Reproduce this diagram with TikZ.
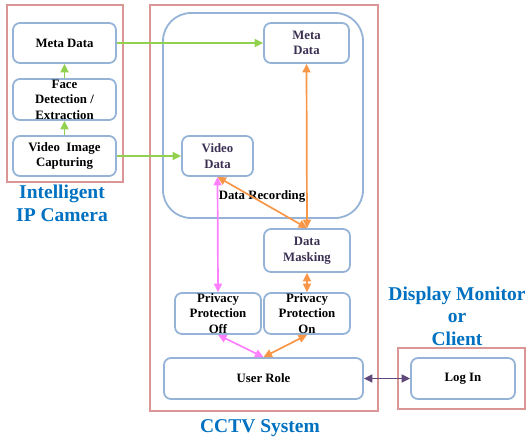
\documentclass[tikz,border=0pt]{standalone}
\usepackage{fontspec}
\setmainfont{Liberation Serif}
\usetikzlibrary{arrows.meta}
\definecolor{boxblue}{RGB}{149,179,215}
\definecolor{redbox}{RGB}{217,150,148}
\definecolor{greenarr}{RGB}{146,208,80}
\definecolor{orangearr}{RGB}{247,150,70}
\definecolor{pinkarr}{RGB}{255,128,255}
\definecolor{purplearr}{RGB}{96,73,122}
\definecolor{slatetext}{RGB}{60,48,82}
\definecolor{labelblue}{RGB}{0,112,192}
\begin{document}
\begin{tikzpicture}[x=1pt,y=-1pt,
  box/.style={draw=boxblue, line width=1.8pt, rounded corners=7pt, align=center,
    font=\fontsize{12.8}{15.5}\selectfont\bfseries, inner sep=0pt},
  container/.style={draw=redbox, line width=1.6pt},
  arr/.style={line width=1.7pt, -{Triangle[length=8.5pt,width=8pt]}},
  darr/.style={line width=1.7pt, {Triangle[length=8.5pt,width=8pt]}-{Triangle[length=8.5pt,width=8pt]}},
  biglabel/.style={text=labelblue, align=center, font=\fontsize{19.5}{22.5}\selectfont\bfseries, inner sep=0pt}
]
\useasboundingbox (0,0) rectangle (526,440);

% containers
\draw[container] (7,5) rectangle (123,182);
\draw[container] (150,5) rectangle (378,411);
\draw[container] (398,348) rectangle (525,409);
\draw[draw=boxblue, line width=1.8pt, rounded corners=28pt] (163,13) rectangle (363,218);

% camera boxes
\node[box, minimum width=103pt, minimum height=40pt] (lmeta) at (64.5,43) {Meta Data};
\node[box, minimum width=103pt, minimum height=41pt] (face) at (64.5,99.5) {Face\\Detection /\\Extraction};
\node[box, minimum width=103pt, minimum height=40pt] (vic) at (64.5,156) {Video\ \ Image\\Capturing};

% CCTV boxes
\node[box, text=slatetext, minimum width=85pt, minimum height=40pt] (imeta) at (306.5,43) {Meta\\Data};
\node[box, text=slatetext, minimum width=71pt, minimum height=40pt] (vdata) at (217.5,156) {Video\\Data};
\node[box, text=slatetext, minimum width=86pt, minimum height=43pt] (mask) at (307,250.5) {Data\\Masking};
\node[box, minimum width=86pt, minimum height=41pt] (ppoff) at (218,313.5) {Privacy\\Protection\\Off};
\node[box, minimum width=86pt, minimum height=41pt] (ppon) at (307,313.5) {Privacy\\Protection\\On};
\node[box, minimum width=199pt, minimum height=41pt] (role) at (263.5,378.5) {User Role};
\node[box, minimum width=104pt, minimum height=41pt] (login) at (463,378.5) {Log In};

% labels
\node[font=\fontsize{12.8}{15.5}\selectfont\bfseries, inner sep=0pt] (rec) at (262,196.5) {Data Recording};
\node[biglabel] (camlbl) at (62,203.5) {Intelligent\\IP Camera};
\node[biglabel] (cctvlbl) at (260,428) {CCTV System};
\node[biglabel] (displbl) at (457,316) {Display Monitor\\or\\Client};

% arrows
\draw[arr, greenarr] (lmeta.east) -- (imeta.west);
\draw[arr, greenarr] (vic.east) -- (vdata.west);
\draw[arr, greenarr] (face.north) -- (lmeta.south);
\draw[arr, greenarr] (vic.north) -- (face.south);

\draw[darr, orangearr] (imeta.south) -- (mask.north);
\draw[darr, orangearr] (vdata.south) -- (mask.north);
\draw[darr, pinkarr] (vdata.south) -- (ppoff.north);
\draw[darr, orangearr] (mask.south) -- (ppon.north);
\draw[darr, pinkarr] (ppoff.south) -- (role.north);
\draw[darr, orangearr] (ppon.south) -- (role.north);
\draw[darr, purplearr] (role.east) -- (login.west);
\end{tikzpicture}
\end{document}
